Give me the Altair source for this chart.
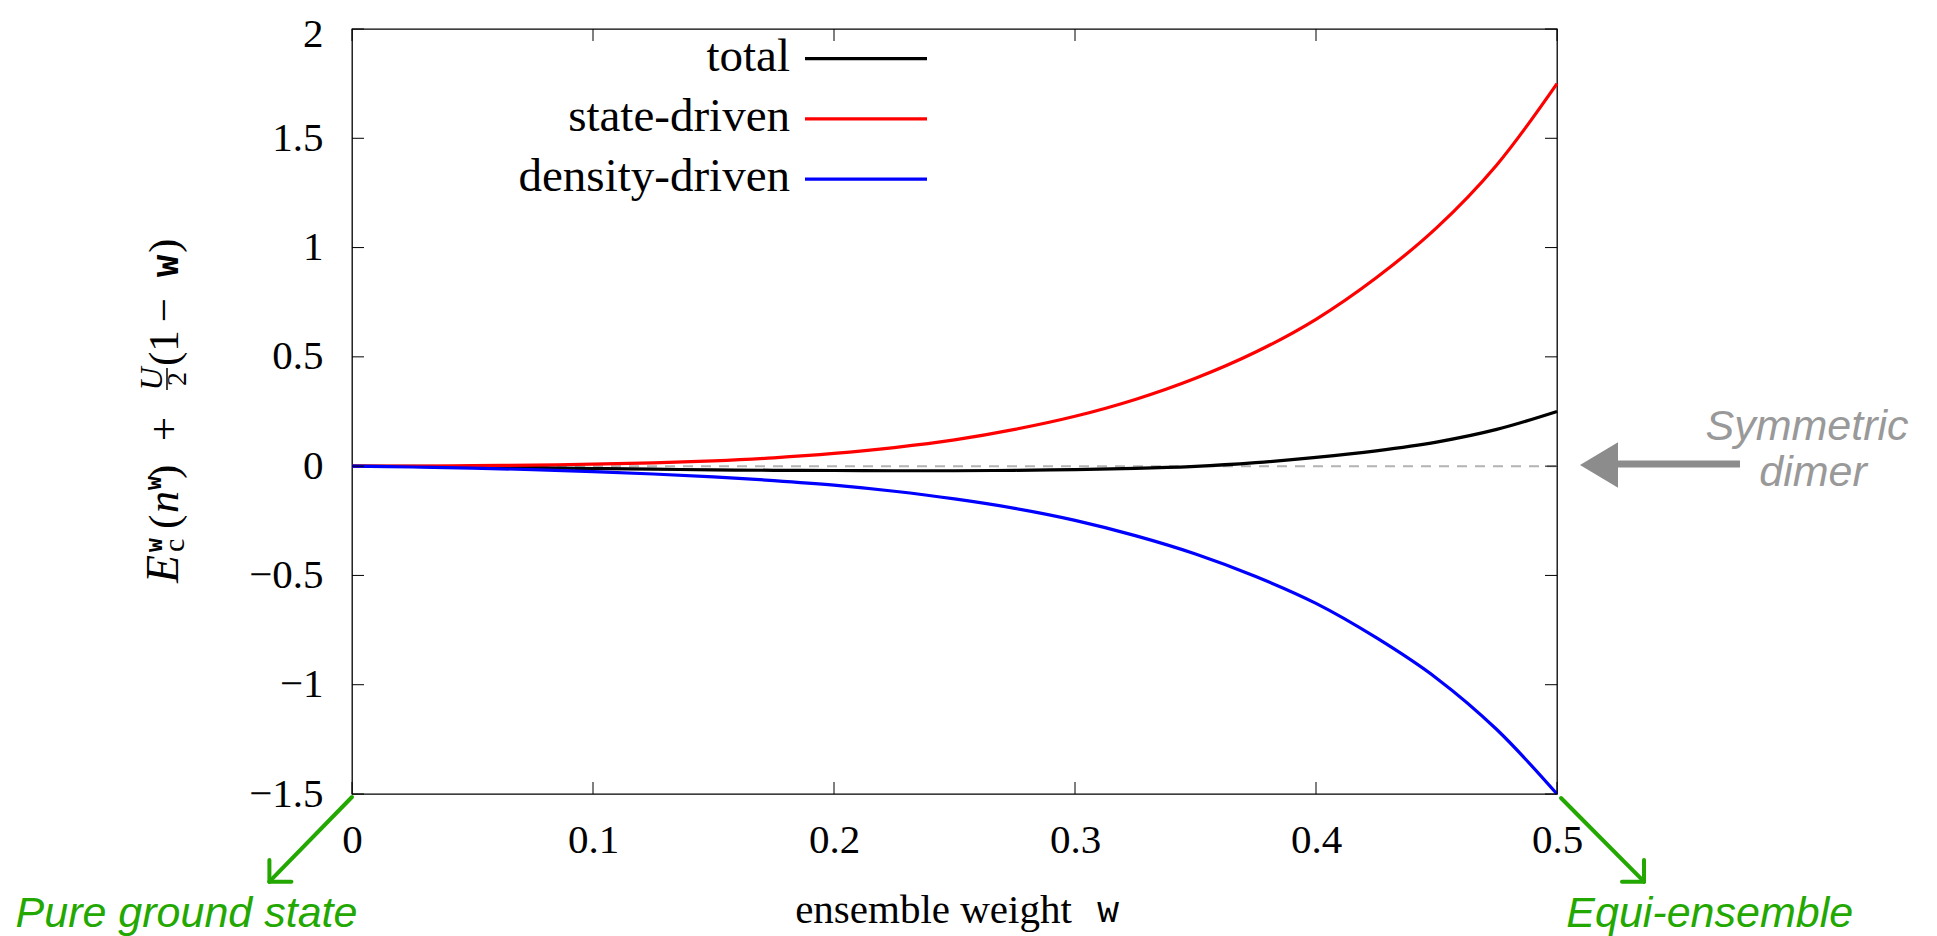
import altair as alt
import pandas as pd

# ---------------- data ----------------
w_vals = [0.0, 0.025, 0.05, 0.075, 0.1, 0.125, 0.15, 0.175, 0.2, 0.225, 0.25,
          0.275, 0.3, 0.325, 0.35, 0.375, 0.4, 0.425, 0.45, 0.475, 0.5]
total = [0.0, -0.001, -0.004, -0.007, -0.011, -0.014, -0.017, -0.019, -0.02, -0.021, -0.021,
         -0.019, -0.016, -0.01, -0.001, 0.016, 0.04, 0.07, 0.11, 0.168, 0.25]
state_driven = [0.0, 0.0005, 0.002, 0.005, 0.009, 0.015, 0.024, 0.038, 0.058, 0.085, 0.12,
                0.168, 0.228, 0.305, 0.402, 0.522, 0.672, 0.862, 1.09, 1.378, 1.75]
density_driven = [0.0, -0.004, -0.009, -0.016, -0.025, -0.036, -0.049, -0.066, -0.087, -0.115, -0.15,
                  -0.193, -0.248, -0.318, -0.402, -0.505, -0.628, -0.785, -0.97, -1.205, -1.5]
series_names = ["total", "state-driven", "density-driven"]
series_colors = ["#000000", "#ff0000", "#0000ff"]
x_ticks = [0, 0.1, 0.2, 0.3, 0.4, 0.5]
y_ticks = [-1.5, -1, -0.5, 0, 0.5, 1, 1.5, 2]

# ---------------- layout / style ----------------
W, H = 1205, 765
SERIF = "Liberation Serif"
SANS = "Liberation Sans"
MONO = "DejaVu Sans Mono"
FS = 41
LEG_FS = 47
GREEN = "#22a800"
GRAY_TXT = "#999999"
GRAY_ARROW = "#8c8c8c"

df = pd.DataFrame({
    "w": w_vals * 3,
    "value": total + state_driven + density_driven,
    "series": [s for s in series_names for _ in w_vals],
})
one = pd.DataFrame({"a": [0]})
xt_df = pd.DataFrame({"w": x_ticks})
yt_df = pd.DataFrame({"value": y_ticks})
zero_df = pd.DataFrame({"value": [0]})

xscale = alt.Scale(domain=[0, 0.5], nice=False, zero=False)
yscale = alt.Scale(domain=[-1.5, 2], nice=False, zero=False)
color_scale = alt.Scale(domain=series_names, range=series_colors)

x_axis = alt.Axis(values=x_ticks, format="~g", grid=False, ticks=False, domain=False,
                  labelFont=SERIF, labelFontSize=FS, labelColor="black", labelPadding=26,
                  labelFlush=False, labelOverlap=False,
                  title="ensemble weight", titleFont=SERIF, titleFontSize=FS,
                  titleFontWeight="normal", titleColor="black",
                  titleX=581, titleY=128, titleAlign="center", titleBaseline="alphabetic")
y_axis = alt.Axis(values=y_ticks, format="~g", grid=False, ticks=False, domain=False,
                  labelFont=SERIF, labelFontSize=FS, labelColor="black", labelPadding=29,
                  labelFlush=False, labelOverlap=False, title=None,
                  labelOffset={"condition": {"test": "datum.value >= 2", "value": 5}, "value": 0})

X = alt.X("w:Q", scale=xscale, axis=x_axis)
Y = alt.Y("value:Q", scale=yscale, axis=y_axis)

layers = []

# dashed zero line
layers.append(
    alt.Chart(zero_df).mark_rule(color="#b3b3b3", strokeWidth=2, strokeDash=[10, 8])
    .encode(y=Y)
)

# curves
layers.append(
    alt.Chart(df).mark_line(strokeWidth=3.2, interpolate="catmull-rom")
    .encode(x=X, y=Y, color=alt.Color("series:N", scale=color_scale, legend=None))
)

# inward ticks on all four sides
TL = 12
layers.append(alt.Chart(xt_df).mark_rule(color="black", strokeWidth=1).encode(
    x=X, y=alt.value(H), y2=alt.value(H - TL)))
layers.append(alt.Chart(xt_df).mark_rule(color="black", strokeWidth=1).encode(
    x=X, y=alt.value(0), y2=alt.value(TL)))
layers.append(alt.Chart(yt_df).mark_rule(color="black", strokeWidth=1).encode(
    y=Y, x=alt.value(0), x2=alt.value(TL)))
layers.append(alt.Chart(yt_df).mark_rule(color="black", strokeWidth=1).encode(
    y=Y, x=alt.value(W - TL), x2=alt.value(W)))

# legend (gnuplot style: label then line sample)
for i, (name, col) in enumerate(zip(series_names, series_colors)):
    ly = 29.7 + 60.2 * i
    layers.append(alt.Chart(one).mark_text(text=name, font=SERIF, fontSize=LEG_FS, color="black",
                                           align="right", baseline="middle")
                  .encode(x=alt.value(438), y=alt.value(ly - 2)))
    layers.append(alt.Chart(one).mark_rule(color=col, strokeWidth=3.2)
                  .encode(x=alt.value(453), x2=alt.value(575), y=alt.value(ly)))

# x-axis title's typewriter "w"
layers.append(alt.Chart(one).mark_text(text="w", font=MONO, fontSize=36, color="black",
                                       align="center", baseline="alphabetic")
              .encode(x=alt.value(756), y=alt.value(893)))

# y-axis title built from pieces (rotated, reading upward)
BX = -174
pieces = [
    # text, x(baseline), y(start), font, size, style, align
    ("E", BX, 554, SERIF, 46, "italic", "left"),
    ("c", BX + 6, 523, SERIF, 30, "normal", "left"),
    ("w", BX - 16, 523, MONO, 23, "bold", "left"),
    ("(", BX, 500, SERIF, 43, "normal", "left"),
    ("n", BX, 484, SERIF, 44, "italic", "left"),
    ("w", BX - 17, 461, MONO, 23, "bold", "left"),
    (")", BX, 450, SERIF, 43, "normal", "left"),
    ("+", BX, 400, SERIF, 43, "normal", "center"),
    ("U", BX - 16, 350, SERIF, 32, "italic", "center"),
    ("2", BX + 8, 350, SERIF, 28, "normal", "center"),
    ("(1", BX, 337, SERIF, 43, "normal", "left"),
    ("\u2212", BX, 281, SERIF, 43, "normal", "center"),
    ("w", BX, 248, MONO, 37, "bold", "left"),
    (")", BX, 224, SERIF, 43, "normal", "left"),
]
for txt, px, py, fnt, fsz, sty, al in pieces:
    style = {"fontStyle": "italic"} if sty == "italic" else ({"fontWeight": "bold"} if sty == "bold" else {})
    layers.append(alt.Chart(one).mark_text(text=txt, font=fnt, fontSize=fsz, color="black",
                                           angle=270, align=al, baseline="alphabetic", **style)
                  .encode(x=alt.value(px), y=alt.value(py)))
layers.append(alt.Chart(one).mark_rule(color="black", strokeWidth=1.5)
              .encode(x=alt.value(BX - 11), x2=alt.value(BX - 11), y=alt.value(339), y2=alt.value(361)))

# green annotation arrows and labels
green_segments = [
    (0, 768, -82.6, 852.7), (-82.6, 852.7, -82.6, 831), (-82.6, 852.7, -60.6, 852.7),
    (1209, 769, 1292, 852.7), (1292, 852.7, 1292, 831), (1292, 852.7, 1270, 852.7),
]
for x1, y1, x2, y2 in green_segments:
    layers.append(alt.Chart(one).mark_rule(color=GREEN, strokeWidth=4, strokeCap="round")
                  .encode(x=alt.value(x1), y=alt.value(y1), x2=alt.value(x2), y2=alt.value(y2)))
layers.append(alt.Chart(one).mark_text(text="Pure ground state", font=SANS, fontSize=43,
                                       fontStyle="italic", color=GREEN, align="center",
                                       baseline="alphabetic")
              .encode(x=alt.value(-165.5), y=alt.value(897.7)))
layers.append(alt.Chart(one).mark_text(text="Equi-ensemble", font=SANS, fontSize=43,
                                       fontStyle="italic", color=GREEN, align="center",
                                       baseline="alphabetic")
              .encode(x=alt.value(1357.7), y=alt.value(897.7)))

# gray "Symmetric dimer" arrow and label
layers.append(alt.Chart(one).mark_rule(color=GRAY_ARROW, strokeWidth=7)
              .encode(x=alt.value(1262), x2=alt.value(1388), y=alt.value(435)))
layers.append(alt.Chart(one).mark_point(shape="M -1 0 L 1 -1.2 L 1 1.2 Z", size=1444, filled=True,
                                        color=GRAY_ARROW, opacity=1, strokeWidth=0)
              .encode(x=alt.value(1247), y=alt.value(436)))
layers.append(alt.Chart(one).mark_text(text="Symmetric", font=SANS, fontSize=43, fontStyle="italic",
                                       color=GRAY_TXT, align="center", baseline="alphabetic")
              .encode(x=alt.value(1455), y=alt.value(411)))
layers.append(alt.Chart(one).mark_text(text="dimer", font=SANS, fontSize=43, fontStyle="italic",
                                       color=GRAY_TXT, align="center", baseline="alphabetic")
              .encode(x=alt.value(1461), y=alt.value(457)))

chart = (
    alt.layer(*layers)
    .properties(width=W, height=H, background="white",
                autosize=alt.AutoSizeParams(type="none"),
                padding={"left": 344, "top": 21, "right": 370, "bottom": 142})
    .configure_view(stroke="black", strokeWidth=1.3)
)

chart.save("out.html", embed_options={"renderer": "svg", "actions": False})
